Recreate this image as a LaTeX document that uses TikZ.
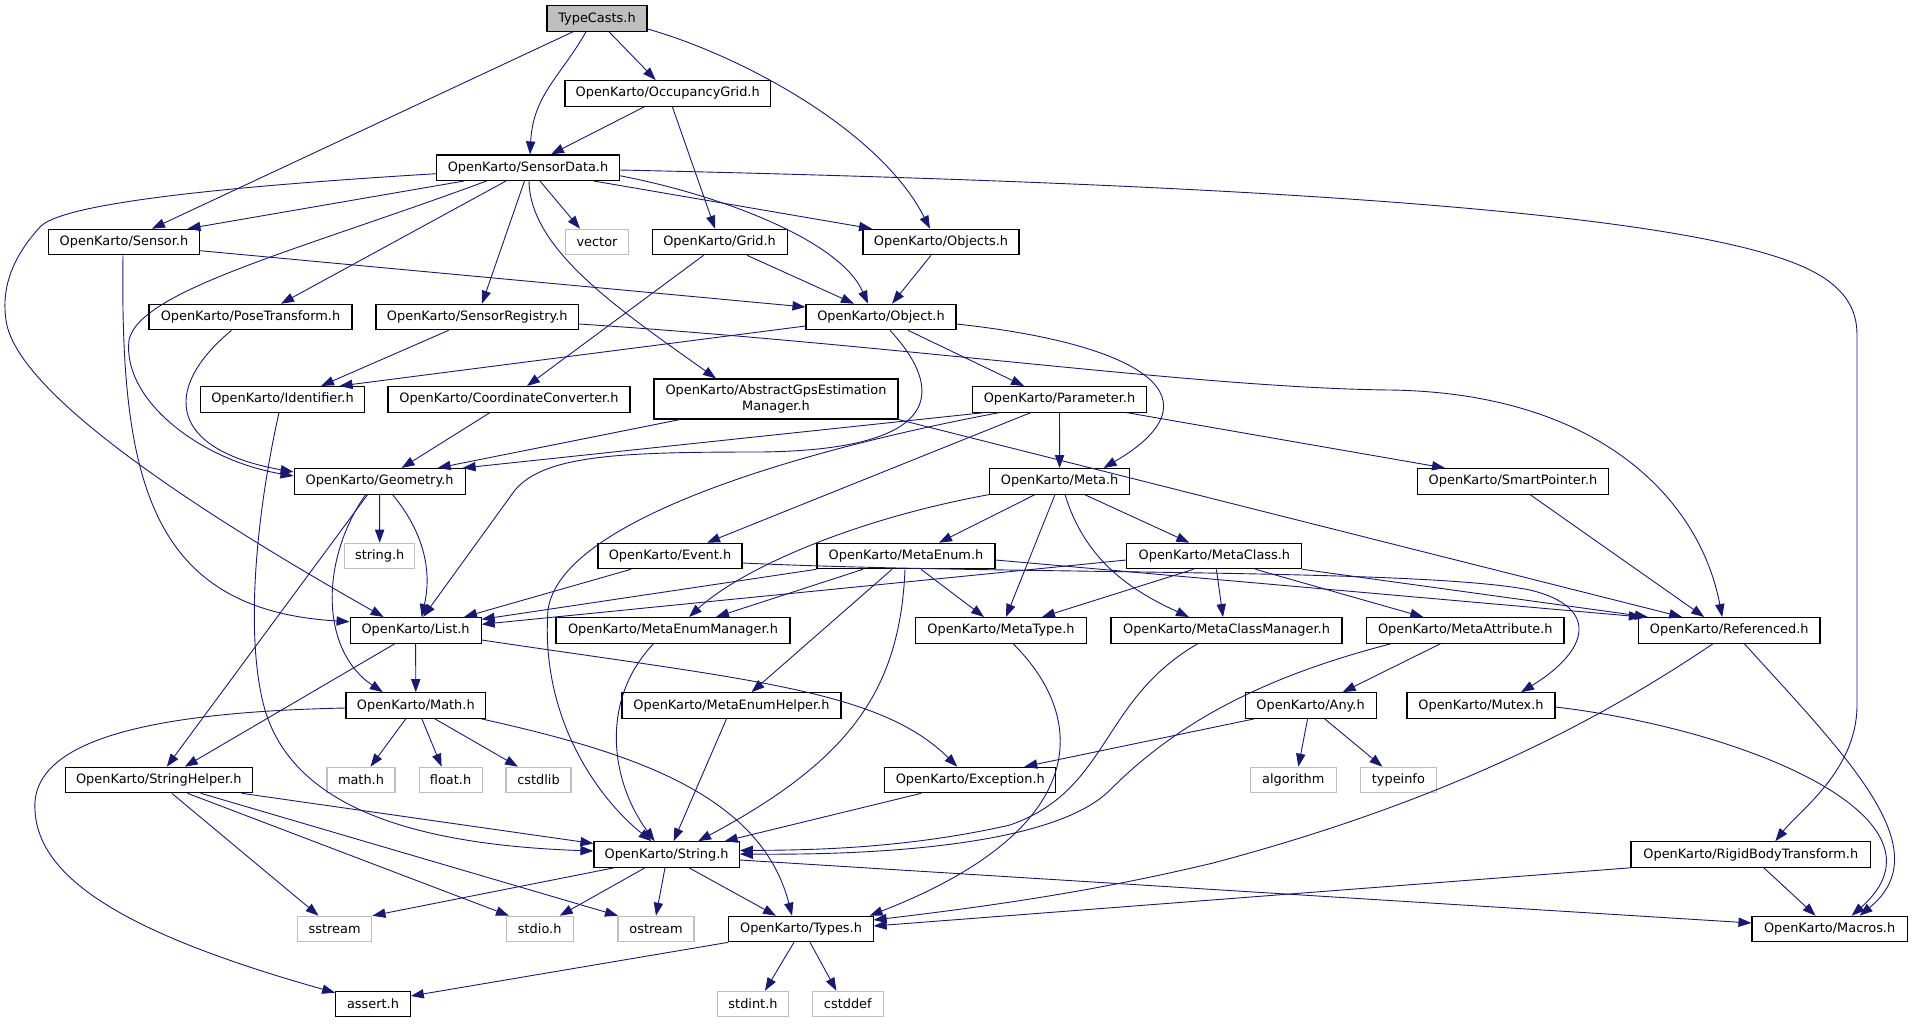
\documentclass[tikz,border=0pt]{standalone}
\usepackage{fontspec}
\setmainfont{DejaVu Sans}
\usetikzlibrary{arrows.meta}
\definecolor{midblue}{HTML}{191970}
\definecolor{sysgray}{HTML}{BFBFBF}
\begin{document}
\begin{tikzpicture}[x=1pt,y=-1pt,
    box/.style={draw=black,line width=1.1pt,fill=white,minimum height=25.5pt,inner sep=2pt,align=center,font=\fontsize{12.9}{15.3}\selectfont},
    sys/.style={box,draw=sysgray},
    root/.style={box,fill=sysgray},
    edge/.style={midblue,line width=0.9pt,-{Triangle[length=13pt,width=9.3pt]}}]
    \useasboundingbox(0,0)rectangle(1913,1023);

    \node[root,minimum width=100pt](typecasts)at(597,18.5){TypeCasts.h};
    \node[box,minimum width=205.5pt](occgrid)at(667.7,93.3){OpenKarto/OccupancyGrid.h};
    \node[box,minimum width=182.6pt](sensordata)at(528,167.7){OpenKarto/SensorData.h};
    \node[box,minimum width=151pt](sensor)at(124,242){OpenKarto/Sensor.h};
    \node[sys,minimum width=62.6pt](vector)at(597,242){vector};
    \node[box,minimum width=135pt](grid)at(719.6,242){OpenKarto/Grid.h};
    \node[box,minimum width=156pt](objects)at(941,242){OpenKarto/Objects.h};
    \node[box,minimum width=203pt](posetransform)at(250.5,317){OpenKarto/PoseTransform.h};
    \node[box,minimum width=202.6pt](sensorregistry)at(477.3,317){OpenKarto/SensorRegistry.h};
    \node[box,minimum width=150pt](object)at(881,317){OpenKarto/Object.h};
    \node[box,minimum width=164.3pt](identifier)at(282.5,399.3){OpenKarto/Identifier.h};
    \node[box,minimum width=242pt](coordconv)at(509,399.3){OpenKarto/CoordinateConverter.h};
    \node[box,minimum width=244pt,minimum height=40pt](abstractgps)at(776,399){OpenKarto/AbstractGpsEstimation\\Manager.h};
    \node[box,minimum width=173.2pt](parameter)at(1059.5,399.3){OpenKarto/Parameter.h};
    \node[box,minimum width=171pt](geometry)at(379.6,481.3){OpenKarto/Geometry.h};
    \node[box,minimum width=140pt](meta)at(1059.6,481.3){OpenKarto/Meta.h};
    \node[box,minimum width=191pt](smartpointer)at(1513,481.3){OpenKarto/SmartPointer.h};
    \node[sys,minimum width=70.4pt](stringh)at(379.7,556){string.h};
    \node[box,minimum width=144pt](event)at(670,556){OpenKarto/Event.h};
    \node[box,minimum width=178pt](metaenum)at(906,556){OpenKarto/MetaEnum.h};
    \node[box,minimum width=175pt](metaclass)at(1214.4,556){OpenKarto/MetaClass.h};
    \node[box,minimum width=131pt](list)at(415.6,630.3){OpenKarto/List.h};
    \node[box,minimum width=234pt](metaenummanager)at(673,630.3){OpenKarto/MetaEnumManager.h};
    \node[box,minimum width=171pt](metatype)at(1001,630.3){OpenKarto/MetaType.h};
    \node[box,minimum width=231pt](metaclassmanager)at(1226.5,630.3){OpenKarto/MetaClassManager.h};
    \node[box,minimum width=197.4pt](metaattribute)at(1465.3,630.3){OpenKarto/MetaAttribute.h};
    \node[box,minimum width=181.6pt](referenced)at(1729.2,630.3){OpenKarto/Referenced.h};
    \node[box,minimum width=139.7pt](math)at(415.8,705.5){OpenKarto/Math.h};
    \node[box,minimum width=219pt](metaenumhelper)at(731.5,705.5){OpenKarto/MetaEnumHelper.h};
    \node[box,minimum width=131pt](any)at(1310.6,705.5){OpenKarto/Any.h};
    \node[box,minimum width=148pt](mutex)at(1481,705.5){OpenKarto/Mutex.h};
    \node[box,minimum width=186.6pt](stringhelper)at(158.8,780){OpenKarto/StringHelper.h};
    \node[sys,minimum width=68pt](mathh)at(361,780){math.h};
    \node[sys,minimum width=63pt](floath)at(450.6,780){float.h};
    \node[sys,minimum width=65pt](cstdlib)at(538.5,780){cstdlib};
    \node[box,minimum width=171pt](exception)at(970.3,780){OpenKarto/Exception.h};
    \node[sys,minimum width=85.7pt](algorithm)at(1293.3,780){algorithm};
    \node[sys,minimum width=76.4pt](typeinfo)at(1398.4,780){typeinfo};
    \node[box,minimum width=145.3pt](string)at(666.6,854.5){OpenKarto/String.h};
    \node[box,minimum width=239.6pt](rigidbody)at(1750.8,854.5){OpenKarto/RigidBodyTransform.h};
    \node[sys,minimum width=74.6pt](sstream)at(334.6,929){sstream};
    \node[sys,minimum width=67pt](stdio)at(539.7,929){stdio.h};
    \node[sys,minimum width=76pt](ostream)at(656,929){ostream};
    \node[box,minimum width=144.2pt](types)at(801,929){OpenKarto/Types.h};
    \node[box,minimum width=155.2pt](macros)at(1829.6,929){OpenKarto/Macros.h};
    \node[box,minimum width=74.6pt](assert)at(373,1004){assert.h};
    \node[sys,minimum width=70.5pt](stdint)at(753,1004){stdint.h};
    \node[sys,minimum width=70.5pt](cstddef)at(847.8,1004){cstddef};

    \draw[edge]([xshift=-24pt]typecasts.south)--([xshift=28pt]sensor.north);
    \draw[edge]([xshift=-11pt]typecasts.south)..controls(561,76)and(533,95)..([xshift=2pt]sensordata.north);
    \draw[edge]([xshift=12pt]typecasts.south)--([xshift=-12pt]occgrid.north);
    \draw[edge]([yshift=-10.5pt]typecasts.east)..controls(740,55)and(880,130)..([xshift=-11pt]objects.north);

    \draw[edge]([xshift=-23pt]occgrid.south)--([xshift=23pt]sensordata.north);
    \draw[edge]([xshift=4.6pt]occgrid.south)--([xshift=-4.6pt]grid.north);

    \draw[edge]([yshift=-6pt]sensordata.west)..controls(200,188)and(60,205)..(40,227)..controls(20,249)and(0,280)..(6,320)..controls(15,390)and(184,504)..([xshift=-32pt]list.north);
    \draw[edge]([xshift=-64pt]sensordata.south)--([xshift=63.5pt]sensor.north);
    \draw[edge]([xshift=-41.4pt]sensordata.south)..controls(300,250)and(140,290)..(129,340)..controls(122,400)and(200,460)..([yshift=5.3pt]geometry.west);
    \draw[edge]([xshift=-22pt]sensordata.south)--([xshift=30.5pt]posetransform.north);
    \draw[edge]([xshift=-3.5pt]sensordata.south)--([xshift=4.7pt]sensorregistry.north);
    \draw[edge]([xshift=12pt]sensordata.south)--([xshift=-17pt]vector.north);
    \draw[edge]([xshift=1pt]sensordata.south)..controls(530,250)and(620,310)..([xshift=-60pt]abstractgps.north);
    \draw[edge]([xshift=65.75pt]sensordata.south)--([xshift=-69pt]objects.north);
    \draw[edge]([yshift=-8pt]sensordata.east)..controls(720,195)and(840,240)..([xshift=-13pt]object.north);
    \draw[edge]([yshift=-2.3pt]sensordata.east)..controls(1300,185)and(1700,215)..(1810,270)..controls(1846,288)and(1857,310)..(1857,335)--(1857,705)..controls(1857,770)and(1800,810)..([xshift=24.5pt]rigidbody.north);

    \draw[edge]([xshift=-1pt]sensor.south)..controls(120,480)and(150,610)..([yshift=8.6pt]list.west);
    \draw[edge]([yshift=-8.7pt]sensor.east)--([yshift=10pt]object.west);

    \draw[edge]([xshift=-16pt]grid.south)--([xshift=18pt]coordconv.north);
    \draw[edge]([xshift=27.4pt]grid.south)--([xshift=-27pt]object.north);
    \draw[edge]([xshift=-10pt]objects.south)--([xshift=11pt]object.north);

    \draw[edge]([xshift=-19pt]posetransform.south)..controls(160,390)and(170,450)..([yshift=9.3pt]geometry.west);
    \draw[edge]([xshift=-28.6pt]sensorregistry.south)--([xshift=38.5pt]identifier.north);
    \draw[edge]([yshift=-7pt]sensorregistry.east)..controls(900,345)and(1200,388)..(1390,390)..controls(1600,393)and(1700,500)..([xshift=-7pt]referenced.north);

    \draw[edge]([yshift=-9pt]object.west)--([xshift=57pt]identifier.north);
    \draw[edge]([xshift=9pt]object.south)..controls(945,390)and(945,450)..(760,452)..controls(620,452)and(545,455)..(515,490)--([xshift=7.5pt]list.north);
    \draw[edge]([xshift=27pt]object.south)--([xshift=-35.5pt]parameter.north);
    \draw[edge]([yshift=-7pt]object.east)..controls(1150,345)and(1220,400)..([xshift=44pt]meta.north);

    \draw[edge]([xshift=-3.5pt]identifier.south)..controls(255,520)and(245,640)..(265,710)..controls(295,810)and(420,845)..([yshift=3.5pt]string.west);
    \draw[edge]([xshift=-19pt]coordconv.south)--([xshift=22pt]geometry.north);
    \draw[edge]([xshift=-96pt]abstractgps.south)--([xshift=58pt]geometry.north);
    \draw[edge](abstractgps.south east)--([xshift=-47pt]referenced.north);

    \draw[edge]([xshift=-75pt]parameter.south)--([xshift=-3pt]geometry.north east);
    \draw[edge]([xshift=-60pt]parameter.south)..controls(800,450)and(560,520)..(548,610)..controls(540,720)and(600,800)..([xshift=-15pt]string.north);
    \draw[edge]([xshift=-28.7pt]parameter.south)--([xshift=37pt]event.north);
    \draw[edge](parameter)--(meta);
    \draw[edge]([xshift=67pt]parameter.south)--([xshift=-68pt]smartpointer.north);

    \draw[edge](geometry)--(stringh);
    \draw[edge]([xshift=13pt]geometry.south)..controls(430,540)and(430,580)..([xshift=6pt]list.north);
    \draw[edge]([xshift=-12pt]geometry.south)--([xshift=8pt]stringhelper.north);
    \draw[edge]([xshift=-14pt]geometry.south)..controls(320,560)and(320,650)..([xshift=-33pt]math.north);
    \draw[edge]([xshift=17pt]smartpointer.south)--([xshift=-25pt]referenced.north);

    \draw[edge](meta.south west)..controls(850,520)and(740,570)..([xshift=16pt]metaenummanager.north);
    \draw[edge]([xshift=-24.6pt]meta.south)--([xshift=33pt]metaenum.north);
    \draw[edge]([xshift=-4.6pt]meta.south)--([xshift=5pt]metatype.north);
    \draw[edge]([xshift=5.4pt]meta.south)..controls(1085,560)and(1130,590)..([xshift=-37.5pt]metaclassmanager.north);
    \draw[edge]([xshift=25pt]meta.south)--([xshift=-25pt]metaclass.north);

    \draw[edge]([xshift=-39pt]event.south)--([xshift=48.4pt]list.north);
    \draw[edge]([yshift=-7pt]event.east)..controls(1000,575)and(1420,568)..(1530,590)..controls(1600,607)and(1590,650)..([xshift=40pt]mutex.north);

    \draw[edge](metaenum.south west)--([yshift=11pt]list.east);
    \draw[edge]([xshift=-43pt]metaenum.south)--([xshift=43pt]metaenummanager.north);
    \draw[edge]([xshift=-14pt]metaenum.south)--([xshift=20pt]metaenumhelper.north);
    \draw[edge]([xshift=-1pt]metaenum.south)..controls(900,690)and(850,760)..([xshift=31.5pt]string.north);
    \draw[edge]([xshift=15pt]metaenum.south)--([xshift=-17pt]metatype.north);
    \draw[edge]([yshift=-4pt]metaenum.east)--([xshift=4pt]referenced.north west);

    \draw[edge]([yshift=-4pt]metaclass.west)--([yshift=6pt]list.east);
    \draw[edge]([xshift=-21pt]metaclass.south)--([xshift=41pt]metatype.north);
    \draw[edge]([xshift=2pt]metaclass.south)--([xshift=-3.5pt]metaclassmanager.north);
    \draw[edge]([xshift=41pt]metaclass.south)--([xshift=-42pt]metaattribute.north);
    \draw[edge](metaclass.south east)--([xshift=10pt]referenced.north west);

    \draw[edge](list)--(math);
    \draw[edge]([xshift=-20.6pt]list.south)--([xshift=26pt]stringhelper.north);
    \draw[edge]([yshift=-9.7pt]list.east)..controls(750,680)and(880,690)..([xshift=-13pt]exception.north);

    \draw[edge]([xshift=-19.4pt]metaenummanager.south)..controls(600,700)and(610,780)..([xshift=-12pt]string.north);
    \draw[edge]([xshift=-5pt]metaenumhelper.south)--([xshift=7pt]string.north);
    \draw[edge]([xshift=12pt]metatype.south)..controls(1090,720)and(1090,830)..([xshift=-4pt]types.north east);
    \draw[edge]([xshift=-28.5pt]metaclassmanager.south)..controls(1100,700)and(1110,790)..(1010,825)..controls(900,850)and(800,850)..([yshift=4pt]string.east);
    \draw[edge]([xshift=-73.7pt]metaattribute.south)..controls(1250,680)and(1170,730)..(1110,790)..controls(1050,850)and(850,855)..([yshift=0.5pt]string.east);
    \draw[edge]([xshift=-24.6pt]metaattribute.south)--([xshift=32pt]any.north);
    \draw[edge]([xshift=-16pt]referenced.south)..controls(1600,720)and(1450,800)..(1213,863)..controls(1100,890)and(1000,905)..([yshift=9pt]types.east);
    \draw[edge]([xshift=15pt]referenced.south)..controls(1850,760)and(1940,850)..([xshift=30pt]macros.north);

    \draw[edge]([yshift=-2.5pt]math.west)..controls(150,712)and(30,740)..(35,810)..controls(38,880)and(130,935)..([yshift=-2pt]assert.north west);
    \draw[edge]([xshift=-10pt]math.south)--([xshift=9.5pt]mathh.north);
    \draw[edge]([xshift=6pt]math.south)--([xshift=-9pt]floath.north);
    \draw[edge]([xshift=19pt]math.south)--([xshift=-20.5pt]cstdlib.north);
    \draw[edge]([xshift=-5pt]math.south east)..controls(620,750)and(760,790)..([xshift=-9pt]types.north);

    \draw[edge]([xshift=-11pt]stringhelper.south east)--([yshift=11pt]string.west);
    \draw[edge]([xshift=13pt]stringhelper.south)--([xshift=-16pt]sstream.north);
    \draw[edge]([xshift=28.7pt]stringhelper.south)--([xshift=-30.7pt]stdio.north);
    \draw[edge]([xshift=42pt]stringhelper.south)--([xshift=-38pt]ostream.north);

    \draw[edge]([xshift=-52.6pt]string.south)--(sstream.north east);
    \draw[edge]([xshift=-21.6pt]string.south)--([xshift=20pt]stdio.north);
    \draw[edge]([xshift=-1.6pt]string.south)--(ostream.north);
    \draw[edge]([xshift=22.4pt]string.south)--([xshift=-25pt]types.north);
    \draw[edge]([yshift=-5.5pt]string.east)--([yshift=6pt]macros.west);

    \draw[edge](types.south west)--([yshift=8pt]assert.east);
    \draw[edge]([xshift=-7pt]types.south)--([xshift=12pt]stdint.north);
    \draw[edge]([xshift=9pt]types.south)--([xshift=-11.4pt]cstddef.north);
    \draw[edge]([xshift=-49pt]exception.south)--([xshift=58pt]string.north);

    \draw[edge]([xshift=10pt]any.south west)--([xshift=54pt]exception.north);
    \draw[edge]([xshift=-3pt]any.south)--([xshift=5pt]algorithm.north);
    \draw[edge]([xshift=14pt]any.south)--([xshift=-16pt]typeinfo.north);
    \draw[edge]([yshift=-1.5pt]mutex.east)..controls(1750,730)and(1960,820)..([xshift=22pt]macros.north);
    \draw[edge](rigidbody.south west)--([yshift=3pt]types.east);
    \draw[edge]([xshift=13pt]rigidbody.south)--([xshift=-14pt]macros.north);
\end{tikzpicture}
\end{document}
